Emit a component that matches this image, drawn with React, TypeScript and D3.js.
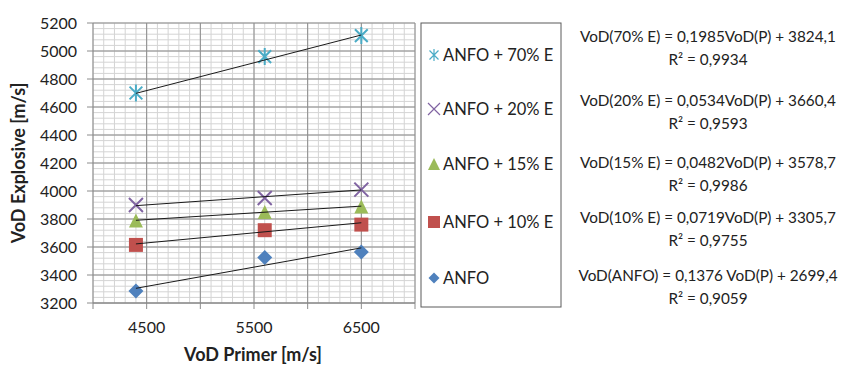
import React, { useEffect, useRef } from 'react';
import * as d3 from 'd3';

const width = 850,
      height = 365;

// primer velocities (x) for the three shots
const primerVoD = [4400, 5600, 6500];

const seriesNames = ['ANFO + 70% E', 'ANFO + 20% E', 'ANFO + 15% E', 'ANFO + 10% E', 'ANFO'];
const seriesColors = ['#4bacc6', '#8064a2', '#9bbb59', '#c0504d', '#4f81bd'];
const seriesMarkers = ['asterisk', 'cross', 'triangle', 'square', 'diamond'];

const vod70 = [4700, 4960, 5110];
const vod20 = [3900, 3950, 4010];
const vod15 = [3790, 3850, 3890];
const vod10 = [3615, 3720, 3760];
const vodAnfo = [3285, 3525, 3565];
const seriesValues = [vod70, vod20, vod15, vod10, vodAnfo];

// linear trend lines: slope, intercept
const trendSlopes = [0.1985, 0.0534, 0.0482, 0.0719, 0.1376];
const trendIntercepts = [3824.1, 3660.4, 3578.7, 3305.7, 2699.4];

const equationTexts = [
    'VoD(70% E)  = 0,1985VoD(P) + 3824,1',
    'VoD(20% E) = 0,0534VoD(P) + 3660,4',
    'VoD(15% E) = 0,0482VoD(P) + 3578,7',
    'VoD(10% E) = 0,0719VoD(P) + 3305,7',
    'VoD(ANFO) = 0,1376 VoD(P) + 2699,4',
];
const r2Texts = ['R² = 0,9934', 'R² = 0,9593', 'R² = 0,9986', 'R² = 0,9755', 'R² = 0,9059'];

const yTicks = [3200, 3400, 3600, 3800, 4000, 4200, 4400, 4600, 4800, 5000, 5200];
const xLabelTicks = [4500, 5500, 6500];

const font = 'Lato, "Open Sans", sans-serif';

const markerPath = (type: string, s: number) => {
    const h = s / 2;
    if (type === 'asterisk') {
        const a = h * 0.75;
        return `M0,${-h}L0,${h}M${-a},${-a}L${a},${a}M${-a},${a}L${a},${-a}`;
    }
    if (type === 'cross') return `M${-h},${-h}L${h},${h}M${-h},${h}L${h},${-h}`;
    if (type === 'triangle') return `M0,${-h}L${h},${h}L${-h},${h}Z`;
    if (type === 'square') return `M${-h},${-h}H${h}V${h}H${-h}Z`;
    return `M0,${-h}L${h},0L0,${h}L${-h},0Z`;
};

const App = () => {
    const ref = useRef<SVGSVGElement>(null);

    useEffect(() => {
        const svg = d3.select(ref.current);
        svg.html('');

        const left = 93, right = 415, top = 23, bottom = 303;
        const x = d3.scaleLinear().domain([4000, 7000]).range([left, right]);
        const y = d3.scaleLinear().domain([3200, 5200]).range([bottom, top]);

        const g = svg.append('g');

        // minor gridlines
        g.selectAll('.vminor').data(d3.range(4000, 7001, 100)).enter().append('line')
            .attr('x1', d => x(d)).attr('x2', d => x(d))
            .attr('y1', top).attr('y2', bottom)
            .attr('stroke', '#d4d4d4').attr('stroke-width', 1);
        g.selectAll('.hminor').data(d3.range(3200, 5201, 40)).enter().append('line')
            .attr('x1', left).attr('x2', right)
            .attr('y1', d => y(d)).attr('y2', d => y(d))
            .attr('stroke', '#d4d4d4').attr('stroke-width', 1);

        // major gridlines
        g.selectAll('.vmajor').data(d3.range(4500, 7001, 500)).enter().append('line')
            .attr('x1', d => x(d)).attr('x2', d => x(d))
            .attr('y1', top).attr('y2', bottom + 6)
            .attr('stroke', '#8c8c8c').attr('stroke-width', 1);
        g.selectAll('.hmajor').data(yTicks).enter().append('line')
            .attr('x1', left - 6).attr('x2', right)
            .attr('y1', d => y(d)).attr('y2', d => y(d))
            .attr('stroke', '#8c8c8c').attr('stroke-width', 1);

        // axes lines
        g.append('line').attr('x1', left).attr('x2', left).attr('y1', top).attr('y2', bottom + 6)
            .attr('stroke', '#868686');
        g.append('line').attr('x1', left).attr('x2', right).attr('y1', bottom).attr('y2', bottom)
            .attr('stroke', '#868686');

        // tick labels
        g.selectAll('.ylab').data(yTicks).enter().append('text')
            .attr('x', left - 16).attr('y', d => y(d) + 5.5)
            .attr('text-anchor', 'end').attr('font-family', font).attr('font-size', 16)
            .attr('fill', '#222').text(d => d);
        g.selectAll('.xlab').data(xLabelTicks).enter().append('text')
            .attr('x', d => x(d)).attr('y', 333)
            .attr('text-anchor', 'middle').attr('font-family', font).attr('font-size', 16)
            .attr('fill', '#222').text(d => d);

        // axis titles
        g.append('text').attr('x', 253).attr('y', 361).attr('text-anchor', 'middle')
            .attr('font-family', font).attr('font-size', 18).attr('font-weight', 'bold')
            .attr('fill', '#222').text('VoD Primer [m/s]');
        g.append('text').attr('transform', 'translate(25,163) rotate(-90)').attr('text-anchor', 'middle')
            .attr('font-family', font).attr('font-size', 18).attr('font-weight', 'bold')
            .attr('fill', '#222').text('VoD Explosive [m/s]');

        // series markers and trend lines
        seriesValues.forEach((vals, i) => {
            const pts = vals.map((v, j) => [primerVoD[j], v]);
            const type = seriesMarkers[i];
            const col = seriesColors[i];
            const lined = type === 'asterisk' || type === 'cross';
            g.append('g').selectAll('path').data(pts).enter().append('path')
                .attr('transform', d => `translate(${x(d[0])},${y(d[1])})`)
                .attr('d', markerPath(type, type === 'asterisk' ? 17 : type === 'diamond' ? 15 : 14))
                .attr('fill', lined ? 'none' : col)
                .attr('stroke', col)
                .attr('stroke-width', lined ? 2 : 0);

            const x0 = d3.min(primerVoD) as number, x1 = d3.max(primerVoD) as number;
            g.append('line')
                .attr('x1', x(x0)).attr('y1', y(trendSlopes[i] * x0 + trendIntercepts[i]))
                .attr('x2', x(x1)).attr('y2', y(trendSlopes[i] * x1 + trendIntercepts[i]))
                .attr('stroke', '#1a1a1a').attr('stroke-width', 1);
        });

        // legend
        const legendY = [55, 109, 164, 222, 278];
        g.append('rect').attr('x', 421).attr('y', 23).attr('width', 140).attr('height', 284)
            .attr('fill', '#fff').attr('stroke', '#5a5a5a').attr('stroke-width', 1);
        seriesNames.forEach((name, i) => {
            const type = seriesMarkers[i];
            const col = seriesColors[i];
            const lined = type === 'asterisk' || type === 'cross';
            g.append('path')
                .attr('transform', `translate(434,${legendY[i]})`)
                .attr('d', markerPath(type, type === 'diamond' ? 11 : 12))
                .attr('fill', lined ? 'none' : col)
                .attr('stroke', col)
                .attr('stroke-width', lined ? 1.2 : 0);
            g.append('text').attr('x', 443).attr('y', legendY[i] + 5.5)
                .attr('font-family', font).attr('font-size', 16.5).attr('fill', '#222').text(name);
        });

        // trendline equations
        const eqY = [37, 101, 163, 218, 276];
        equationTexts.forEach((t, i) => {
            g.append('text').attr('x', 708).attr('y', eqY[i] + 5)
                .attr('text-anchor', 'middle').attr('font-family', font).attr('font-size', 15.3)
                .attr('fill', '#222').text(t);
            g.append('text').attr('x', 708).attr('y', eqY[i] + 28)
                .attr('text-anchor', 'middle').attr('font-family', font).attr('font-size', 15.3)
                .attr('fill', '#222').text(r2Texts[i]);
        });
    }, []);

    return (
        <svg ref={ref} width={width} height={height}
            style={{ position: 'absolute', left: 0, top: 0, background: '#fff' }} />
    );
};

export default App;
